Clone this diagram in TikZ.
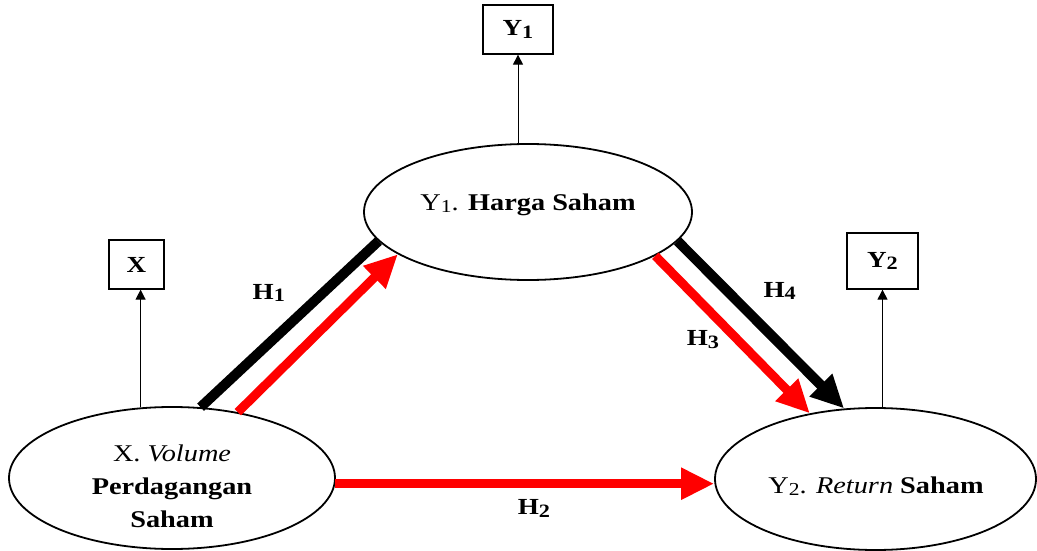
\documentclass[tikz,border=0pt]{standalone}
\usepackage{fontspec}
\usepackage{graphicx}
\setmainfont{Liberation Serif}[FakeStretch=1.18]
\usetikzlibrary{shapes.geometric,arrows.meta}
\newcommand{\lsub}[1]{\raisebox{-0.06em}{\scalebox{0.76}{#1}}}
\newcommand{\hsub}[1]{\raisebox{-0.12em}{\scalebox{0.82}{#1}}}
\begin{document}
\begin{tikzpicture}[x=1pt,y=-1pt,
  latent/.style={draw, ellipse, line width=1.8pt, inner sep=0pt},
  ltext/.style={align=center, inner sep=0pt, font=\fontsize{24}{33}\selectfont},
  obs/.style={draw, rectangle, line width=1.3pt, inner sep=0pt,
    font=\bfseries\fontsize{23}{26}\selectfont},
  obsarrow/.style={line width=1pt, -{Triangle[length=10pt,width=10pt]}},
  redpath/.style={draw=red, line width=9pt, -{Triangle[length=33pt,width=30pt]}},
  blackpath/.style={draw=black, line width=10pt},
  blacktip/.style={-{Triangle[length=33pt,width=30pt]}},
  hlab/.style={font=\bfseries\fontsize{23}{26}\selectfont, inner sep=0pt}
]
\useasboundingbox (0,0) rectangle (1037,551);

% latent variables
\node[latent, minimum width=328pt, minimum height=136pt] (y1) at (528,212) {};
\node[latent, minimum width=326pt, minimum height=142pt] (x) at (172,478) {};
\node[latent, minimum width=321pt, minimum height=142pt] (y2) at (875.5,479) {};
\node[ltext] (y1t) at (528,205) {Y\lsub{1}. \textbf{Harga Saham}};
\node[ltext] (xt) at (172,486) {X. \textit{Volume}\\\textbf{Perdagangan}\\\textbf{Saham}};
\node[ltext] (y2t) at (876,486) {Y\lsub{2}. \textit{Return} \textbf{Saham}};

% indicators
\node[obs, minimum width=55pt, minimum height=49pt] (xb) at (136.5,264.5) {X};
\node[obs, minimum width=70pt, minimum height=49pt] (y1b) at (518,29.5) {Y\hsub{1}};
\node[obs, minimum width=71pt, minimum height=56pt] (y2b) at (882.5,261) {Y\hsub{2}};

\draw[obsarrow] (x.114.7) -- (x.114.7 |- xb.south);
\draw[obsarrow] (y1b.south |- y1.north) -- (y1b.south);
\draw[obsarrow] (y2b.south |- y2.north) -- (y2b.south);

% paths
\draw[blackpath] (x.68) -- (y1.191.3);
\draw[redpath] (x.45) -- (y1.198);
\draw[redpath] (x.-2) -- (x.-2 -| y2.west);
\draw[redpath] (y1.341.3) -- (y2.135);
\draw[blackpath, blacktip] (y1.349.7) -- (y2.114.2);

% labels
\node[hlab] (h1) at (268.8,293) {H\hsub{1}};
\node[hlab] (h2) at (534,508.7) {H\hsub{2}};
\node[hlab] (h3) at (703,339.7) {H\hsub{3}};
\node[hlab] (h4) at (779.7,291) {H\hsub{4}};
\end{tikzpicture}
\end{document}
